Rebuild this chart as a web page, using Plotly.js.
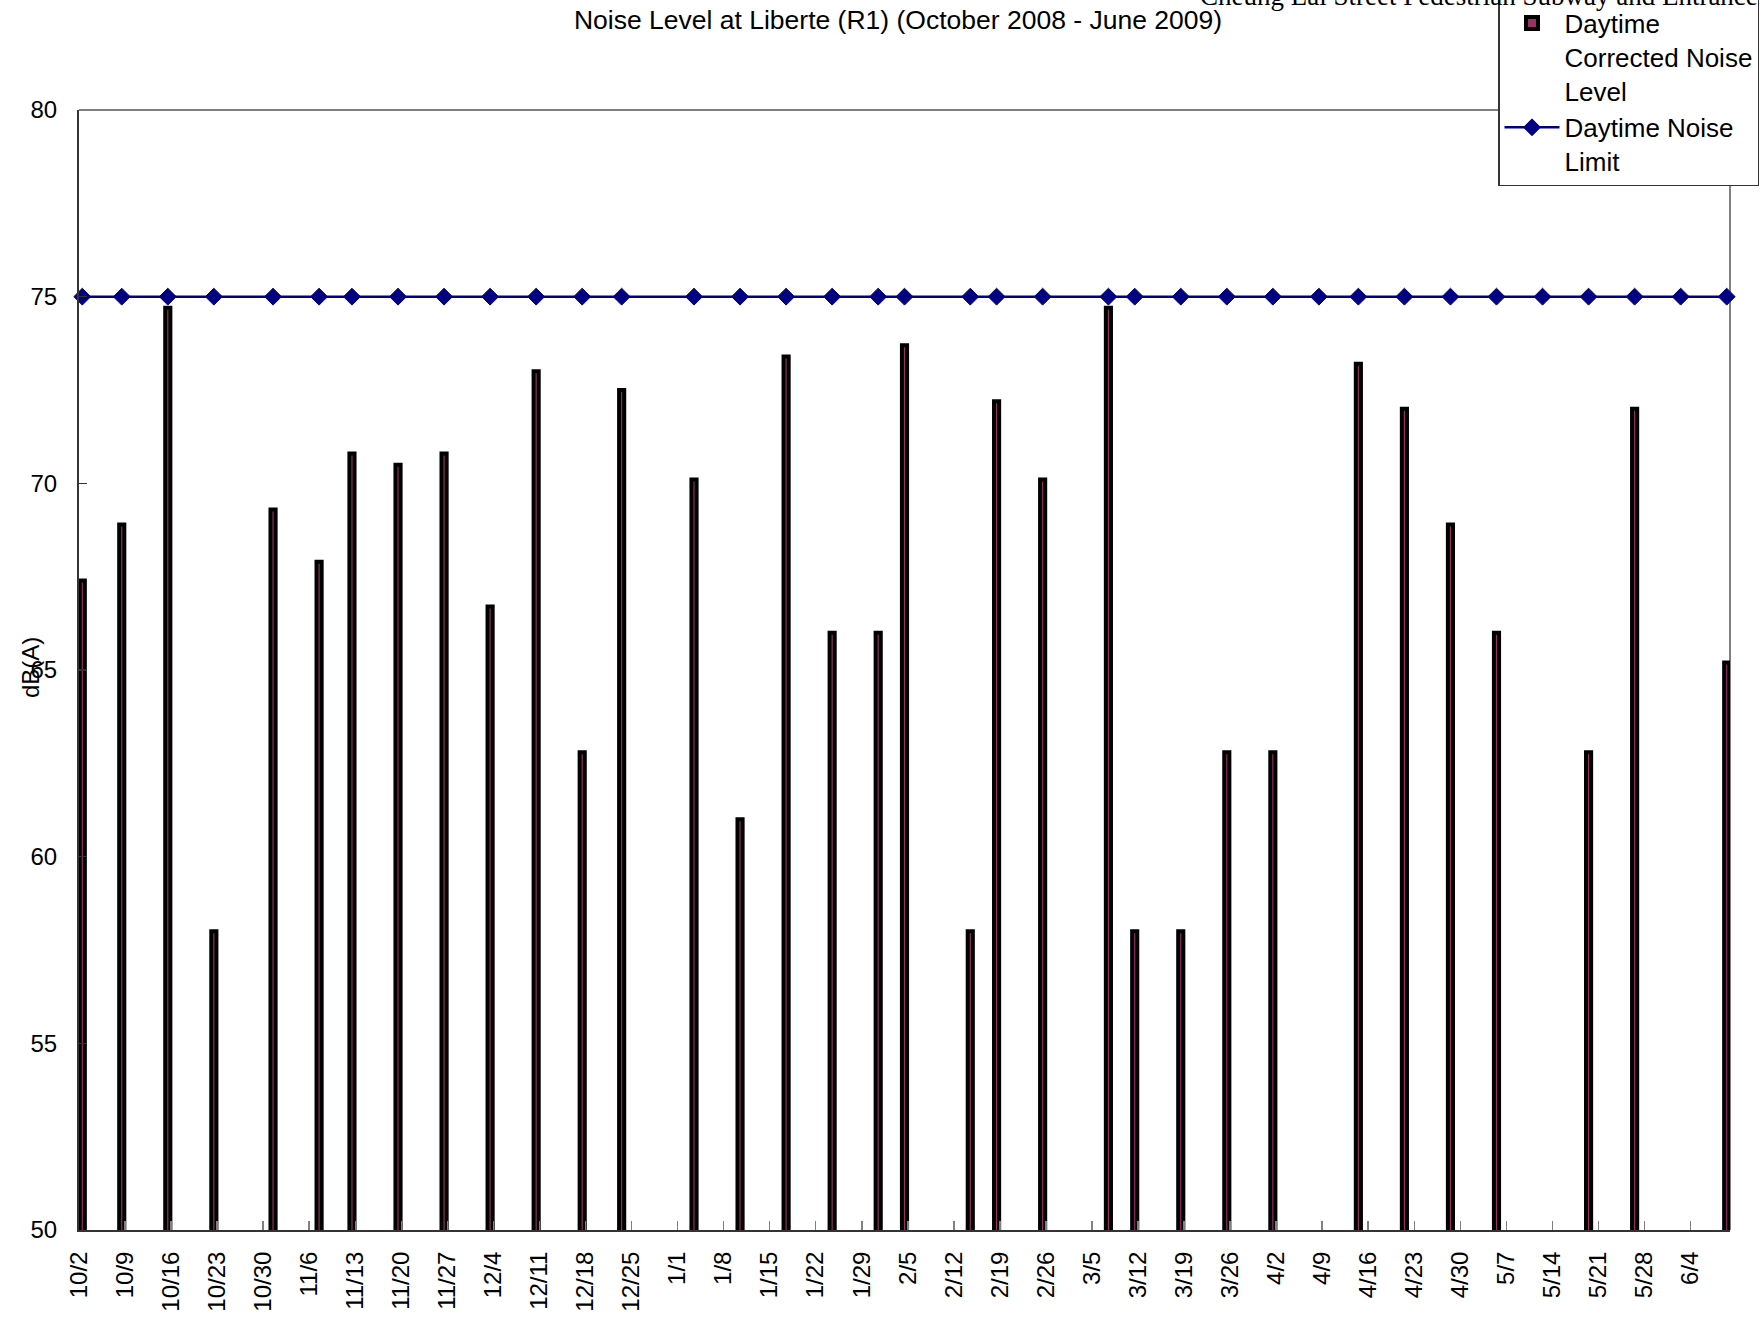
<!DOCTYPE html>
<html>
<head>
<meta charset="utf-8">
<script src="https://cdn.plot.ly/plotly-3.0.1.min.js"></script>
<style>html,body{margin:0;padding:0;background:#fff;}#chart{width:1764px;height:1318px;}</style>
</head>
<body>
<div id="chart"></div>
<script>
// Measurement dates (daytime)
var dates = [
  '2008-10-02','2008-10-08','2008-10-15','2008-10-22','2008-10-31','2008-11-07',
  '2008-11-12','2008-11-19','2008-11-26','2008-12-03','2008-12-10','2008-12-17',
  '2008-12-23','2009-01-03','2009-01-10','2009-01-17','2009-01-24','2009-01-31',
  '2009-02-04','2009-02-14','2009-02-18','2009-02-25','2009-03-07','2009-03-11',
  '2009-03-18','2009-03-25','2009-04-01','2009-04-08','2009-04-14','2009-04-21',
  '2009-04-28','2009-05-05','2009-05-12','2009-05-19','2009-05-26','2009-06-02',
  '2009-06-09'
];
// Daytime corrected noise level, dB(A) (null = no bar shown)
var noiseLevel = [
  67.4, 68.9, 74.7, 58.0, 69.3, 67.9,
  70.8, 70.5, 70.8, 66.7, 73.0, 62.8,
  72.5, 70.1, 61.0, 73.4, 66.0, 66.0,
  73.7, 58.0, 72.2, 70.1, 74.7, 58.0,
  58.0, 62.8, 62.8, null, 73.2, 72.0,
  68.9, 66.0, null, 62.8, 72.0, null,
  65.2
];
// Daytime noise limit, dB(A)
var noiseLimit = [
  75,75,75,75,75,75,75,75,75,75,75,75,75,75,75,75,75,75,75,
  75,75,75,75,75,75,75,75,75,75,75,75,75,75,75,75,75,75
];
var seriesNames = ['Daytime<br>Corrected Noise<br>Level', 'Daytime Noise<br>Limit'];
var chartTitle = 'Noise Level at Liberte (R1) (October 2008 - June 2009)';
var clippedHeader = 'Cheung Lai Street Pedestrian Subway and Entrance';
var yTitle = 'dB(A)';

var DAY = 86400000;
var FONT = 'Liberation Sans, Arial, sans-serif';

var traces = [
  {
    type: 'bar',
    name: seriesNames[0],
    x: dates,
    y: noiseLevel,
    xperiod: DAY,
    xperiodalignment: 'middle',
    width: DAY * 0.78,
    marker: { color: '#993366', line: { color: '#000000', width: 4 } },
    hoverinfo: 'x+y'
  },
  {
    type: 'scatter',
    mode: 'lines+markers',
    name: seriesNames[1],
    x: dates,
    y: noiseLimit,
    xperiod: DAY,
    xperiodalignment: 'middle',
    line: { color: '#000080', width: 2.5 },
    marker: { symbol: 'diamond', size: 13, color: '#000080', line: { color: '#000080', width: 1 } },
    cliponaxis: false
  }
];

var L = 79, R = 1730, T = 110, B = 1230, W = 1764, H = 1318;

var layout = {
  width: W, height: H,
  autosize: false,
  margin: { l: L, r: W - R, t: T, b: H - B, pad: 0, autoexpand: false },
  paper_bgcolor: '#ffffff',
  plot_bgcolor: '#ffffff',
  font: { family: FONT, size: 24, color: '#000000' },
  bargap: 0,
  showlegend: true,
  title: {
    text: chartTitle,
    font: { family: FONT, size: 26.5, color: '#000000' },
    xref: 'paper', x: (898 - L) / (R - L), xanchor: 'center',
    yref: 'container', y: 1 - 20 / H, yanchor: 'middle'
  },
  xaxis: {
    type: 'date',
    range: ['2008-10-02', '2009-06-10'],
    tick0: '2008-10-02',
    dtick: 7 * DAY,
    tickformat: '%-m/%-d',
    tickangle: -90,
    ticks: 'inside',
    ticklen: 9,
    tickwidth: 1.5,
    tickcolor: '#808080',
    ticklabelstandoff: 10,
    showline: true,
    linecolor: '#333333',
    linewidth: 2,
    showgrid: false,
    zeroline: false,
    tickfont: { family: FONT, size: 24, color: '#000000' },
    fixedrange: true
  },
  yaxis: {
    range: [50, 80],
    tick0: 50,
    dtick: 5,
    ticks: 'inside',
    ticklen: 8,
    tickwidth: 1.5,
    tickcolor: '#333333',
    ticklabelstandoff: 15,
    showline: true,
    linecolor: '#333333',
    linewidth: 2,
    showgrid: false,
    zeroline: false,
    tickfont: { family: FONT, size: 24, color: '#000000' },
    fixedrange: true
  },
  legend: {
    x: (1498 - L) / (R - L),
    y: (B + 2) / (B - T),
    xanchor: 'left', yanchor: 'top',
    bgcolor: '#ffffff',
    bordercolor: '#333333',
    borderwidth: 1.5,
    font: { family: FONT, size: 26, color: '#000000' },
    valign: 'top',
    itemwidth: 55,
    traceorder: 'normal'
  },
  shapes: [
    { type: 'line', xref: 'paper', yref: 'paper', x0: 0, x1: 1, y0: 1, y1: 1,
      line: { color: '#808080', width: 2 }, layer: 'below' },
    { type: 'line', xref: 'paper', yref: 'paper', x0: 1, x1: 1, y0: 0, y1: 1,
      line: { color: '#808080', width: 2 }, layer: 'below' }
  ],
  annotations: [
    {
      text: yTitle, textangle: -90, showarrow: false,
      xref: 'paper', yref: 'paper',
      x: (30 - L) / (R - L), y: (B - 668) / (B - T),
      xanchor: 'center', yanchor: 'middle',
      font: { family: FONT, size: 24, color: '#000000' }
    },
    {
      text: clippedHeader, showarrow: false,
      xref: 'paper', yref: 'paper',
      x: (1760 - L) / (R - L), y: 1,
      xanchor: 'right', yanchor: 'bottom',
      yshift: T - 13,
      font: { family: 'Liberation Serif, Times New Roman, serif', size: 27, color: '#000000' }
    }
  ]
};

Plotly.newPlot('chart', traces, layout, { displayModeBar: false, staticPlot: true });
</script>
</body>
</html>
